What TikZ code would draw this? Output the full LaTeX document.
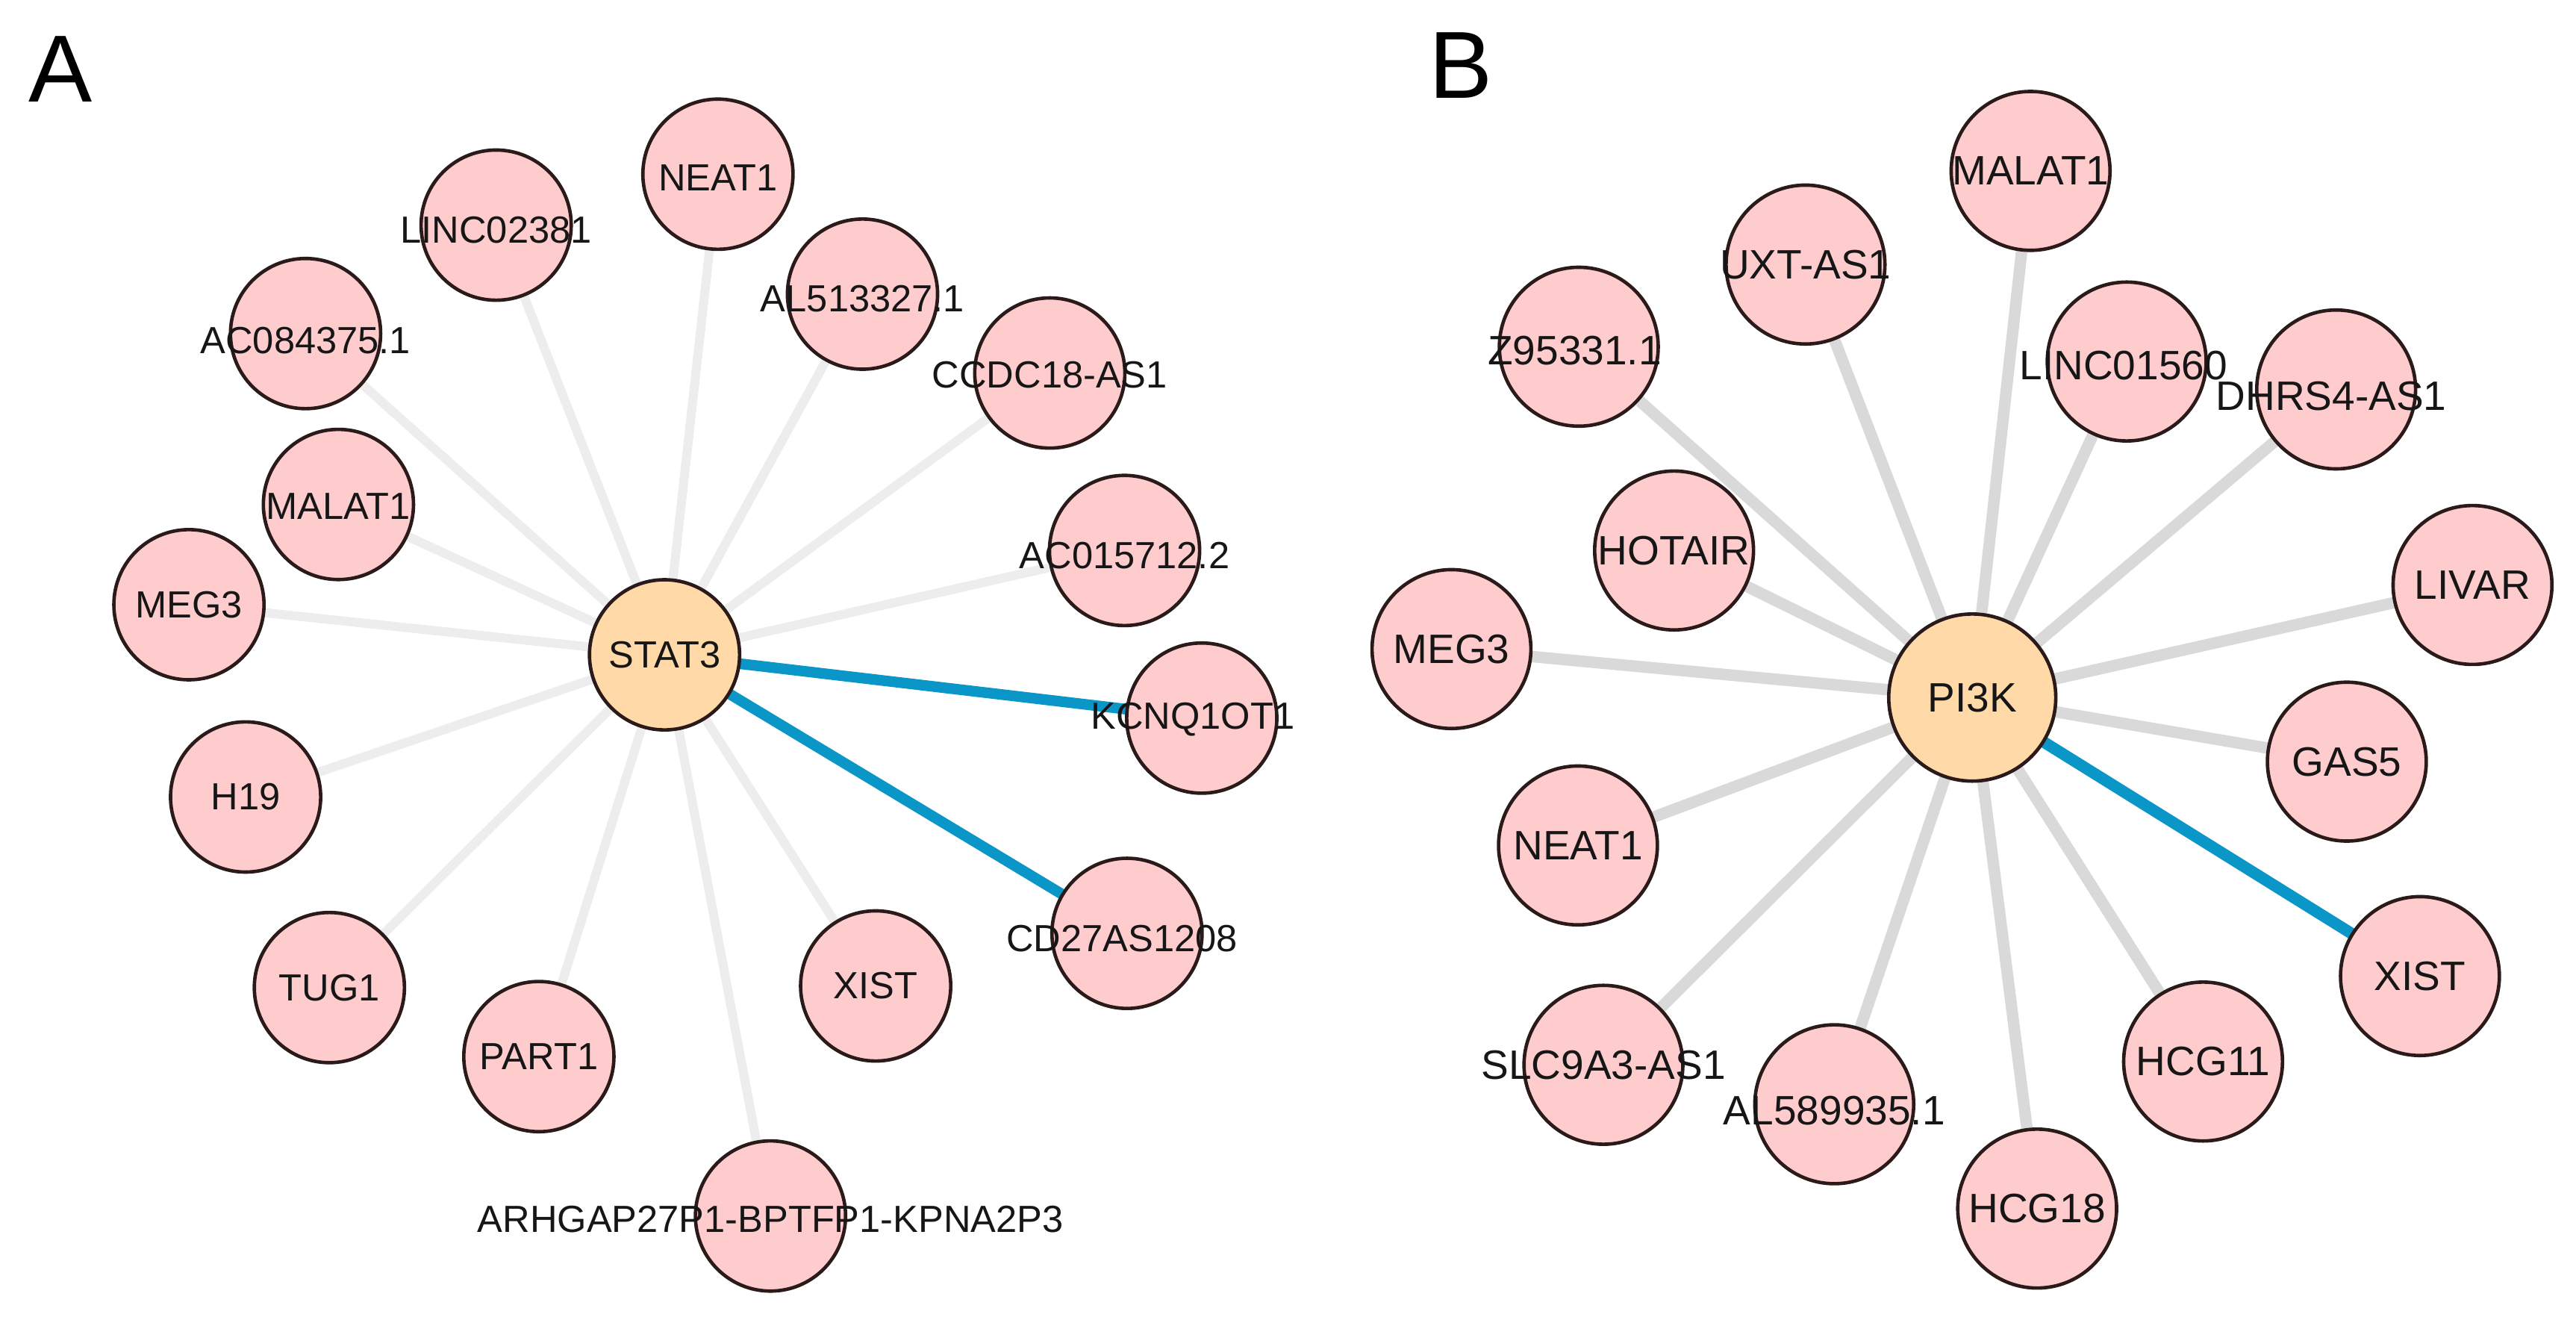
\documentclass[tikz,border=0pt]{standalone}
\usepackage{fontspec}
\setmainfont{Liberation Sans}
\definecolor{lncfill}{HTML}{FFCCCE}
\definecolor{hubfill}{HTML}{FFD9A7}
\definecolor{bord}{HTML}{2A1A1A}
\definecolor{edgegrayA}{HTML}{EDEDED}
\definecolor{edgegrayB}{HTML}{D9D9D9}
\definecolor{blueedge}{HTML}{0A96C6}
\definecolor{txt}{HTML}{161616}
\pgfdeclarelayer{edges}
\pgfsetlayers{edges,main}
\tikzset{
  lncA/.style={circle, draw=bord, line width=2.1pt, fill=lncfill, minimum size=91.4pt, inner sep=0pt},
  lncB/.style={circle, draw=bord, line width=2.1pt, fill=lncfill, minimum size=96.7pt, inner sep=0pt},
  hubA/.style={circle, draw=bord, line width=2.1pt, fill=hubfill, minimum size=91.4pt, inner sep=0pt},
  hubB/.style={circle, draw=bord, line width=2.1pt, fill=hubfill, minimum size=101.7pt, inner sep=0pt},
  lblA/.style={font=\fontsize{23}{23}\selectfont, text=txt, inner sep=0pt},
  lblB/.style={font=\fontsize{25}{25}\selectfont, text=txt, inner sep=0pt},
  panel/.style={font=\fontsize{58}{58}\selectfont, text=black, inner sep=0pt},
  greyA/.style={draw=edgegrayA, line width=5.5pt},
  greyB/.style={draw=edgegrayB, line width=7pt},
  blueA/.style={draw=blueedge, line width=6.5pt},
  blueB/.style={draw=blueedge, line width=7pt}
}
\begin{document}
\begin{tikzpicture}[x=1pt,y=-1pt]
\useasboundingbox (0,0) rectangle (1568,805);
\node[panel] (labA) at (37,42) {A};
\node[panel] (labB) at (889,40) {B};
% ---------------- Panel A ----------------
\node[hubA] (stat3) at (404.5,398.5) {};
\node[lncA] (a-neat1) at (437,106) {};
\node[lncA] (a-linc) at (302,137) {};
\node[lncA] (a-ac084) at (186,203) {};
\node[lncA] (a-al513) at (525,179) {};
\node[lncA] (a-ccdc) at (639,227) {};
\node[lncA] (a-malat) at (206,307) {};
\node[lncA] (a-meg3) at (115,368) {};
\node[lncA] (a-ac015) at (684.5,335) {};
\node[lncA] (a-kcnq) at (731.5,437) {};
\node[lncA] (a-h19) at (149.5,485) {};
\node[lncA] (a-tug1) at (200.5,601) {};
\node[lncA] (a-part1) at (328,643) {};
\node[lncA] (a-xist) at (533,600) {};
\node[lncA] (a-cd27) at (686,568) {};
\node[lncA] (a-arhgap) at (469,740) {};
% ---------------- Panel B ----------------
\node[hubB] (pi3k) at (1200.5,424.5) {};
\node[lncB] (b-malat) at (1236,104) {};
\node[lncB] (b-uxt) at (1099,161) {};
\node[lncB] (b-z95) at (961,211) {};
\node[lncB] (b-linc) at (1294.5,220) {};
\node[lncB] (b-dhrs) at (1422,237) {};
\node[lncB] (b-hotair) at (1019,335) {};
\node[lncB] (b-livar) at (1505,356) {};
\node[lncB] (b-meg3) at (883.5,395) {};
\node[lncB] (b-gas5) at (1428.5,463.5) {};
\node[lncB] (b-neat1) at (960.5,514.5) {};
\node[lncB] (b-xist) at (1473,594) {};
\node[lncB] (b-slc) at (976,648) {};
\node[lncB] (b-al589) at (1116.5,672) {};
\node[lncB] (b-hcg11) at (1341,646) {};
\node[lncB] (b-hcg18) at (1240,735.5) {};
% ---------------- Edges ----------------
\begin{pgfonlayer}{edges}
\foreach \n in {a-neat1,a-linc,a-ac084,a-al513,a-ccdc,a-malat,a-meg3,a-ac015,a-h19,a-tug1,a-part1,a-xist,a-arhgap}
  \draw[greyA] (stat3.center) -- (\n.center);
\draw[blueA] (stat3.center) -- (a-kcnq.center);
\draw[blueA] (stat3.center) -- (a-cd27.center);
\foreach \n in {b-malat,b-uxt,b-z95,b-linc,b-dhrs,b-hotair,b-livar,b-meg3,b-gas5,b-neat1,b-slc,b-al589,b-hcg11,b-hcg18}
  \draw[greyB] (pi3k.center) -- (\n.center);
\draw[blueB] (pi3k.center) -- (b-xist.center);
\end{pgfonlayer}
% ---------------- Labels ----------------
\node[lblA] (t-stat3) at (stat3) {STAT3};
\node[lblA] (t-a-neat1) at ([yshift=-2pt]a-neat1.center) {NEAT1};
\node[lblA] (t-a-linc) at ([yshift=-3pt]a-linc.center) {LINC02381};
\node[lblA] (t-a-ac084) at ([yshift=-4pt]a-ac084.center) {AC084375.1};
\node[lblA] (t-a-al513) at ([yshift=-3pt]a-al513.center) {AL513327.1};
\node[lblA] (t-a-ccdc) at ([yshift=-1pt]a-ccdc.center) {CCDC18-AS1};
\node[lblA] (t-a-malat) at ([yshift=-1pt]a-malat.center) {MALAT1};
\node[lblA] (t-a-meg3) at (a-meg3) {MEG3};
\node[lblA] (t-a-ac015) at ([yshift=-3pt]a-ac015.center) {AC015712.2};
\node[lblA] (t-a-kcnq) at ([xshift=-5.5pt,yshift=-1pt]a-kcnq.center) {KCNQ1OT1};
\node[lblA] (t-a-h19) at (a-h19) {H19};
\node[lblA] (t-a-tug1) at (a-tug1) {TUG1};
\node[lblA] (t-a-part1) at (a-part1) {PART1};
\node[lblA] (t-a-xist) at (a-xist) {XIST};
\node[lblA] (t-a-cd27) at ([xshift=-3pt,yshift=-3pt]a-cd27.center) {CD27AS1208};
\node[lblA] (t-a-arhgap) at ([yshift=-2pt]a-arhgap.center) {ARHGAP27P1-BPTFP1-KPNA2P3};
\node[lblB] (t-pi3k) at (pi3k) {PI3K};
\node[lblB] (t-b-malat) at (b-malat) {MALAT1};
\node[lblB] (t-b-uxt) at (b-uxt) {UXT-AS1};
\node[lblB] (t-b-z95) at ([xshift=-2.5pt,yshift=-2.5pt]b-z95.center) {Z95331.1};
\node[lblB] (t-b-linc) at ([xshift=-2pt,yshift=-2.5pt]b-linc.center) {LINC01560};
\node[lblB] (t-b-dhrs) at ([xshift=-3pt,yshift=-4pt]b-dhrs.center) {DHRS4-AS1};
\node[lblB] (t-b-hotair) at (b-hotair) {HOTAIR};
\node[lblB] (t-b-livar) at (b-livar) {LIVAR};
\node[lblB] (t-b-meg3) at (b-meg3) {MEG3};
\node[lblB] (t-b-gas5) at (b-gas5) {GAS5};
\node[lblB] (t-b-neat1) at (b-neat1) {NEAT1};
\node[lblB] (t-b-xist) at (b-xist) {XIST};
\node[lblB] (t-b-slc) at (b-slc) {SLC9A3-AS1};
\node[lblB] (t-b-al589) at ([yshift=-4pt]b-al589.center) {AL589935.1};
\node[lblB] (t-b-hcg11) at (b-hcg11) {HCG11};
\node[lblB] (t-b-hcg18) at (b-hcg18) {HCG18};
\end{tikzpicture}
\end{document}
